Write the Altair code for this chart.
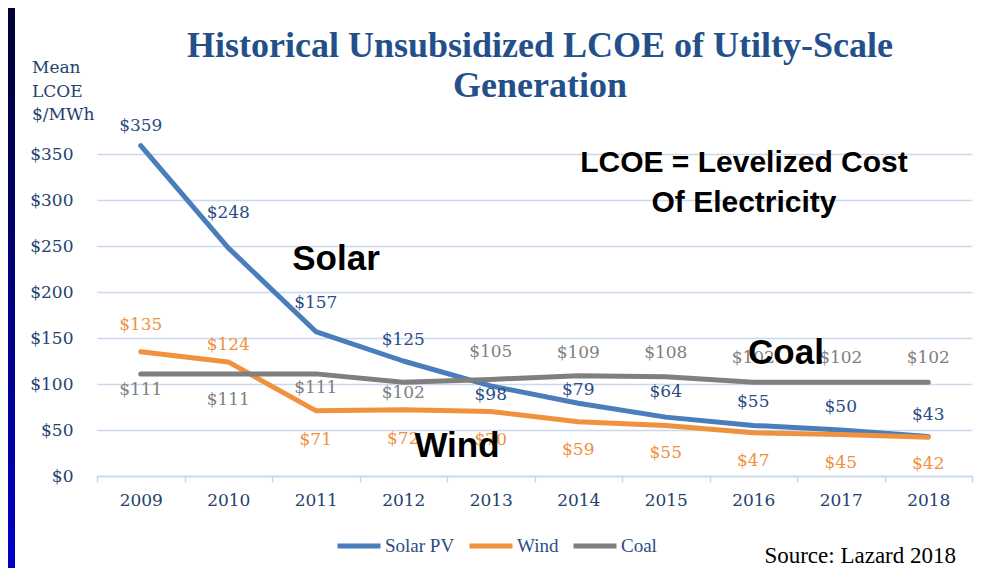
import altair as alt
import pandas as pd

# ---------------- data ----------------
years = ["2009", "2010", "2011", "2012", "2013", "2014", "2015", "2016", "2017", "2018"]
series_names = ["Solar PV", "Wind", "Coal"]
solar = [359, 248, 157, 125, 98, 79, 64, 55, 50, 43]
wind = [135, 124, 71, 72, 70, 59, 55, 47, 45, 42]
coal = [111, 111, 111, 102, 105, 109, 108, 102, 102, 102]
y_ticks = [0, 50, 100, 150, 200, 250, 300, 350]

# label offsets (pixels, negative = above the point)
solar_dy = [-20, -35, -29, -21, 9, -13, -25, -23, -23, -21]
wind_dy = [-27, -17, 29, 29, 28, 28, 28, 28, 28, 27]
coal_dy = [16, 26, 14, 11, -27, -23, -24, -24, -24, -24]

series_colors = ["#4A7DBB", "#F0913E", "#7F7F7F"]
label_colors = ["#2B4C84", "#F0913E", "#808080"]

rows = []
for name, vals, dys, lc in zip(series_names, [solar, wind, coal], [solar_dy, wind_dy, coal_dy], label_colors):
    for yr, v, d in zip(years, vals, dys):
        rows.append({"year": yr, "series": name, "value": v, "dy": d, "lcolor": lc})
df = pd.DataFrame(rows)

# ---------------- layout ----------------
W, H = 875, 322
PAD = {"left": 89, "top": 146, "right": 2, "bottom": 93}
PX_PER_UNIT = H / 350.0

TXT_BLUE = "#24426F"
TITLE_BLUE = "#23508A"
SERIF = "DejaVu Serif"

x_enc = alt.X(
    "year:O",
    scale=alt.Scale(type="band", paddingInner=0, paddingOuter=0),
    bandPosition=0.5,
    sort=years,
    axis=alt.Axis(
        title=None, grid=False, tickBand="extent", tickSize=6,
        tickColor="#C6D6EA", tickWidth=1.5, domainColor="#C6D6EA", domainWidth=1.5,
        labelFont=SERIF, labelFontSize=17, labelColor=TXT_BLUE, labelPadding=10,
        labelAngle=0,
    ),
)
y_scale = alt.Scale(domain=[0, 350], nice=False)

base = alt.Chart(df)

lines = base.mark_line(strokeWidth=5, strokeCap="round", strokeJoin="round", clip=False).encode(
    x=x_enc,
    y=alt.Y(
        "value:Q", scale=y_scale,
        axis=alt.Axis(
            title=None, values=y_ticks, labelExpr="'$' + datum.value", domain=False, ticks=False,
            grid=True, gridColor="#CADAEE", gridWidth=1.5, labelFont=SERIF, labelFontSize=17,
            labelColor=TXT_BLUE, labelPadding=24,
        ),
    ),
    color=alt.Color(
        "series:N",
        scale=alt.Scale(domain=series_names, range=series_colors),
        legend=alt.Legend(
            orient="none", legendX=238, legendY=368, direction="horizontal", title=None,
            symbolType="stroke", symbolSize=1849, symbolStrokeWidth=5,
            labelFont="Liberation Serif", labelFontSize=19, labelColor="#2E4D85",
            columnPadding=4, labelOffset=2,
        ),
    ),
    order=alt.Order("year:O"),
)

labels = base.transform_calculate(
    label_y=f"datum.value - datum.dy / {PX_PER_UNIT}",
    label_txt="'$' + datum.value",
).mark_text(font=SERIF, fontSize=17, baseline="middle", align="center").encode(
    x=x_enc,
    y=alt.Y("label_y:Q", scale=y_scale),
    text="label_txt:N",
    color=alt.Color("lcolor:N", scale=None),
)

one = pd.DataFrame({"a": [0]})


def txt(text, x, y, size, font, color, weight="normal", align="center", baseline="alphabetic"):
    return alt.Chart(one).mark_text(
        font=font, fontSize=size, fontWeight=weight, color=color, align=align, baseline=baseline
    ).encode(x=alt.value(x), y=alt.value(y), text=alt.value(text))


OX, OY = 97, 154  # page position of the plot origin


def page_txt(text, px, py, *a, **k):
    return txt(text, px - OX, py - OY, *a, **k)


annotations = [
    page_txt("Historical Unsubsidized LCOE of Utilty-Scale", 540, 57, 36, "Liberation Serif", TITLE_BLUE, "bold"),
    page_txt("Generation", 540, 97, 36, "Liberation Serif", TITLE_BLUE, "bold"),
    page_txt("Mean", 32, 73, 17, SERIF, TXT_BLUE, align="left"),
    page_txt("LCOE", 32, 97, 17, SERIF, TXT_BLUE, align="left"),
    page_txt("$/MWh", 32, 120, 17, SERIF, TXT_BLUE, align="left"),
    page_txt("LCOE = Levelized Cost", 744, 172, 30, "Liberation Sans", "#000000", "bold"),
    page_txt("Of Electricity", 744, 212, 30, "Liberation Sans", "#000000", "bold"),
    page_txt("Solar", 336, 270, 35, "Liberation Sans", "#000000", "bold"),
    page_txt("Wind", 457, 457, 35, "Liberation Sans", "#000000", "bold"),
    page_txt("Coal", 786, 364, 35, "Liberation Sans", "#000000", "bold"),
    page_txt("Source: Lazard 2018", 956, 563, 23, "Liberation Serif", "#000000", align="right"),
]

strip = alt.Chart(one).mark_rect(
    fill=alt.Gradient(
        gradient="linear",
        stops=[alt.GradientStop(color="#000033", offset=0), alt.GradientStop(color="#0000C8", offset=1)],
        x1=0, x2=0, y1=0, y2=1,
    )
).encode(x=alt.value(-89), x2=alt.value(-82), y=alt.value(-146), y2=alt.value(414))

chart = alt.layer(strip, lines, labels, *annotations).properties(
    width=W, height=H,
    autosize=alt.AutoSizeParams(type="none"),
    padding=PAD,
    background="white",
).configure_view(strokeWidth=0)

chart.save("out.html", embed_options={"renderer": "svg", "actions": False})
